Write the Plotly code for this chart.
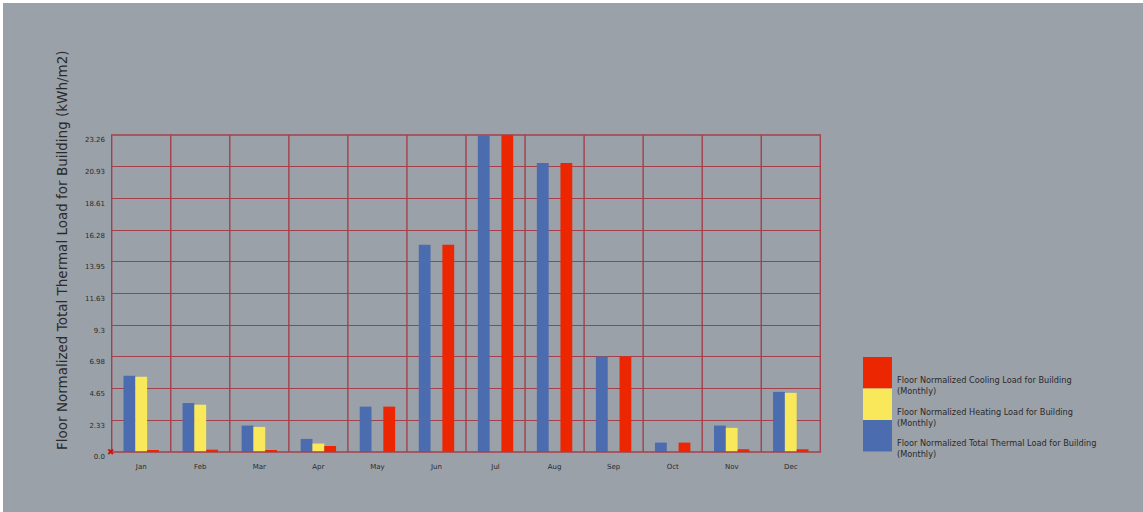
import plotly.graph_objects as go

months = ["Jan", "Feb", "Mar", "Apr", "May", "Jun", "Jul", "Aug", "Sep", "Oct", "Nov", "Dec"]
total_load = [5.60, 3.59, 1.94, 0.96, 3.33, 15.20, 23.26, 21.20, 7.00, 0.69, 1.94, 4.41]
heating_load = [5.53, 3.47, 1.84, 0.62, 0.0, 0.0, 0.0, 0.0, 0.0, 0.0, 1.77, 4.34]
cooling_load = [0.12, 0.17, 0.12, 0.44, 3.33, 15.20, 23.26, 21.20, 7.00, 0.69, 0.20, 0.20]
ytick_vals = [0.0, 2.326, 4.652, 6.978, 9.304, 11.63, 13.956, 16.282, 18.608, 20.934, 23.26]
ytick_text = ["0.0", "2.33", "4.65", "6.98", "9.3", "11.63", "13.95", "16.28", "18.61", "20.93", "23.26"]
legend_labels = [
    "Floor Normalized Cooling Load for Building<br>(Monthly)",
    "Floor Normalized Heating Load for Building<br>(Monthly)",
    "Floor Normalized Total Thermal Load for Building<br>(Monthly)",
]
y_title = "Floor Normalized Total Thermal Load for Building (kWh/m2)"

BLUE = "#4c6cb0"
YELLOW = "#f9e85a"
RED = "#ec2600"
GRID = "#a3404c"
BG = "#9ba1a9"
FONT = "DejaVu Sans"
TXT = "#2a2a2a"

fig = go.Figure()
fig.add_trace(go.Bar(x=months, y=total_load, marker=dict(color=BLUE, line=dict(width=0)), name="Total"))
fig.add_trace(go.Bar(x=months, y=heating_load, marker=dict(color=YELLOW, line=dict(width=0)), name="Heating"))
fig.add_trace(go.Bar(x=months, y=cooling_load, marker=dict(color=RED, line=dict(width=0)), name="Cooling"))

OFF = 3  # page border offset
W, H = 1143 - OFF, 512 - OFF
L, R, T, B = 111 - OFF, 322, 135 - OFF, 60

fig.update_layout(
    width=W, height=H,
    margin=dict(l=L, r=R, t=T, b=B),
    paper_bgcolor=BG, plot_bgcolor=BG,
    barmode="group", bargap=0.4, bargroupgap=0,
    showlegend=False,
    font=dict(family=FONT, size=8, color=TXT),
)
fig.update_xaxes(
    showgrid=False, showline=False, zeroline=False,
    ticks="", tickfont=dict(size=7, color=TXT), ticklabelstandoff=9,
)
fig.update_yaxes(
    range=[0, 23.26], tickvals=ytick_vals, ticktext=ytick_text,
    showgrid=True, gridcolor=GRID, gridwidth=1.4,
    zeroline=False, showline=False, ticks="",
    tickfont=dict(size=7, color=TXT), ticklabelshift=5, ticklabelstandoff=5,
)

n = len(months)
for i in range(n + 1):
    fig.add_shape(type="line", xref="x", yref="paper", x0=i - 0.5, x1=i - 0.5, y0=0, y1=1,
                  line=dict(color=GRID, width=1.4), layer="below")
fig.add_shape(type="line", xref="paper", yref="paper", x0=0, x1=1, y0=0, y1=0,
              line=dict(color=GRID, width=1.4), layer="above")
fig.add_shape(type="line", xref="paper", yref="paper", x0=0, x1=1, y0=1, y1=1,
              line=dict(color=GRID, width=1.4), layer="below")

pw = W - L - R
ph = H - T - B

# y-axis title
fig.add_annotation(text=y_title, xref="paper", yref="paper", x=-49 / pw, y=0,
                   xanchor="center", yanchor="bottom", textangle=-90, showarrow=False,
                   font=dict(family=FONT, size=13.5, color=TXT))

# origin marker
fig.add_annotation(text="✖", xref="paper", yref="paper", x=0, y=0, showarrow=False,
                   xanchor="center", yanchor="middle", font=dict(size=9, color="#d01010"))

def px_x(p):
    return (p - OFF - L) / pw
def px_y(p):
    return (H - B - (p - OFF)) / ph

sw_colors = [RED, YELLOW, BLUE]
sw_top = 357
sw_h = 31.5
for i, (c, lab) in enumerate(zip(sw_colors, legend_labels)):
    y0 = sw_top + i * sw_h
    fig.add_shape(type="rect", xref="paper", yref="paper",
                  x0=px_x(863), x1=px_x(892), y0=px_y(y0 + sw_h), y1=px_y(y0),
                  fillcolor=c, line=dict(width=0), layer="above")
    fig.add_annotation(text=lab, xref="paper", yref="paper", x=px_x(895), y=px_y(y0 + 16),
                       xanchor="left", yanchor="top", align="left", showarrow=False,
                       font=dict(family=FONT, size=8.2, color=TXT))

fig.write_html("out.html", post_script="document.body.style.margin='3px 0 0 3px';")
